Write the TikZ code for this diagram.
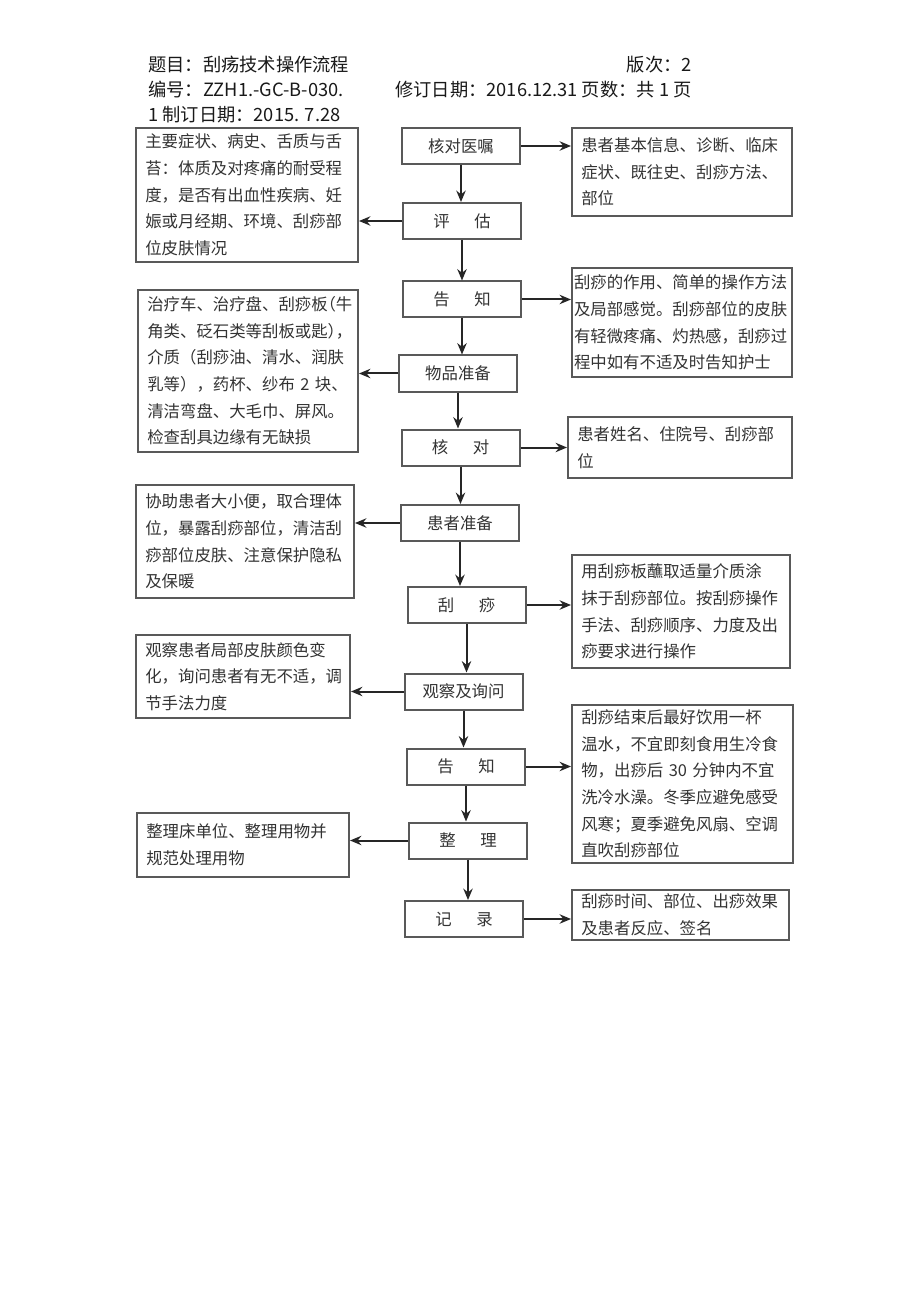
\documentclass[tikz,border=0pt]{standalone}
\usepackage{fontspec}
\setmainfont{Noto Sans CJK SC}
\usepackage{tikz}
\usetikzlibrary{arrows.meta}

\tikzset{
  stepbox/.style={draw=black!65, line width=1.5pt, text=black!80,
    minimum width=88.5pt, minimum height=27pt, inner sep=2pt,
    font=\fontsize{12.3}{16}\selectfont},
  notebox/.style={draw=black!65, line width=1.5pt, text=black!80,
    align=left, inner xsep=7pt, inner ysep=2pt,
    font=\fontsize{12.3}{20}\selectfont},
  headtext/.style={inner sep=0pt, text=black!90,
    font=\fontsize{13.7}{16}\selectfont},
  flow/.style={->, line width=1.5pt, black!85},
}
\newcommand{\halfp}[1]{{\addfontfeature{RawFeature=+halt}#1}}

\begin{document}
\begin{tikzpicture}[x=0.75pt, y=-0.75pt, >={Stealth[length=8.5pt, width=7pt]}]
  \useasboundingbox[fill=white] (0,0) rectangle (920,1301);

  % header
  \node[headtext, anchor=base west] (title) at (148,72) {题目：刮疡技术操作流程};
  \node[headtext, anchor=base east] (edition) at (692,72) {版次：2};
  \node[headtext, anchor=base west] (code) at (148,97) {编号：ZZH1.-GC-B-030.};
  \node[headtext, anchor=base west] (revised) at (395,97) {修订日期：2016.12.31 页数：共 1 页};
  \node[headtext, anchor=base west] (made) at (148,122) {1 制订日期：2015. 7.28};

  % main steps
  \node[stepbox] (order)    at (461,146)   {核对医嘱};
  \node[stepbox] (assess)   at (462,221)   {评\hspace{1.5em}估};
  \node[stepbox] (inform)   at (462,299.5) {告\hspace{1.5em}知};
  \node[stepbox] (supplies) at (458,373.5) {物品准备};
  \node[stepbox] (check)    at (460.5,447.5) {核\hspace{1.5em}对};
  \node[stepbox] (prep)     at (460,523)   {患者准备};
  \node[stepbox] (scrape)   at (466.5,605) {刮\hspace{1.5em}痧};
  \node[stepbox] (observe)  at (463.5,691.5) {观察及询问};
  \node[stepbox] (advise)   at (466,766.5) {告\hspace{1.5em}知};
  \node[stepbox] (tidy)     at (468,840.5) {整\hspace{1.5em}理};
  \node[stepbox] (record)   at (464,919)   {记\hspace{1.5em}录};

  % notes on the left
  \node[notebox, text width=152.5pt, minimum height=100.5pt] (assessnote) at (247,195)
    {主要症状、病史、舌质与舌\\苔：体质及对疼痛的耐受程\\度，是否有出血性疾病、妊\\娠或月经期、环境、刮痧部\\位皮肤情况};
  \node[notebox, text width=151pt, minimum height=121.5pt] (suppliesnote) at (248,371)
    {治疗车、治疗盘、刮痧板\halfp{（}牛\\角类、砭石类等刮板或匙\halfp{），}\\介质（刮痧油、清水、润肤\\乳等），药杯、纱布 2 块、\\清洁弯盘、大毛巾、屏风。\\检查刮具边缘有无缺损};
  \node[notebox, text width=149.5pt, minimum height=84.75pt] (prepnote) at (245,541.5)
    {协助患者大小便，取合理体\\位，暴露刮痧部位，清洁刮\\痧部位皮肤、注意保护隐私\\及保暖};
  \node[notebox, text width=146.5pt, minimum height=62.25pt] (observenote) at (243,676.5)
    {观察患者局部皮肤颜色变\\化，询问患者有无不适，调\\节手法力度};
  \node[notebox, text width=145pt, minimum height=48pt] (tidynote) at (243,845)
    {整理床单位、整理用物并\\规范处理用物};

  % notes on the right
  \node[notebox, text width=151pt, minimum height=66pt] (ordernote) at (682,172)
    {患者基本信息、诊断、临床\\症状、既往史、刮痧方法、\\部位};
  \node[notebox, inner xsep=1.5pt, text width=162pt, minimum height=81.75pt] (informnote) at (682,322.5)
    {刮痧的作用、简单的操作方法\\及局部感觉。刮痧部位的皮肤\\有轻微疼痛、灼热感，刮痧过\\程中如有不适及时告知护士};
  \node[notebox, text width=154pt, minimum height=45.75pt] (checknote) at (680,447.5)
    {患者姓名、住院号、刮痧部\\位};
  \node[notebox, text width=149.5pt, minimum height=84.75pt] (scrapenote) at (681,611.5)
    {用刮痧板蘸取适量介质涂\\抹于刮痧部位。按刮痧操作\\手法、刮痧顺序、力度及出\\痧要求进行操作};
  \node[notebox, text width=151.75pt, minimum height=118.5pt] (advisenote) at (682.5,784)
    {刮痧结束后最好饮用一杯\\温水，不宜即刻食用生冷食\\物，出痧后 30 分钟内不宜\\洗冷水澡。冬季应避免感受\\风寒；夏季避免风扇、空调\\直吹刮痧部位};
  \node[notebox, text width=148.75pt, minimum height=37.5pt] (recordnote) at (680.5,915)
    {刮痧时间、部位、出痧效果\\及患者反应、签名};

  % flow down the middle
  \foreach \a/\b in {order/assess, assess/inform, inform/supplies, supplies/check,
                     check/prep, prep/scrape, scrape/observe, observe/advise,
                     advise/tidy, tidy/record}
    \draw[flow] (\a.south) -- (\a.south |- \b.north);

  % side arrows
  \foreach \a/\b in {order/ordernote, inform/informnote, check/checknote,
                     scrape/scrapenote, advise/advisenote, record/recordnote}
    \draw[flow] (\a.east) -- (\a.east -| \b.west);
  \foreach \a/\b in {assess/assessnote, supplies/suppliesnote, prep/prepnote,
                     observe/observenote, tidy/tidynote}
    \draw[flow] (\a.west) -- (\a.west -| \b.east);
\end{tikzpicture}
\end{document}
